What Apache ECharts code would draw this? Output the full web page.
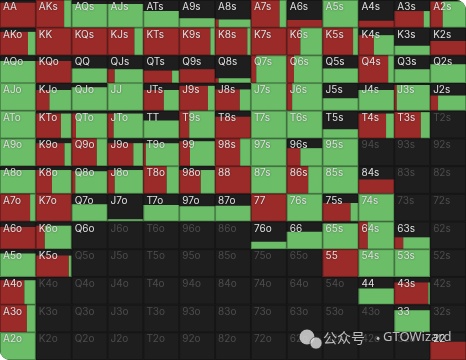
<!DOCTYPE html>
<html>
<head>
<meta charset="utf-8">
<script src="https://cdn.jsdelivr.net/npm/echarts@6/dist/echarts.min.js"></script>
<style>
  html, body { margin: 0; padding: 0; background: #ffffff; }
  #chart { width: 466px; height: 360px; border-radius: 0 10px 0 10px; overflow: hidden; background: #1c1c1c; }
</style>
</head>
<body>
<div id="chart"></div>
<script>
// Ranks of the 13x13 hand grid (rows / columns)
const ranks = ['A','K','Q','J','T','9','8','7','6','5','4','3','2'];

// Share of each cell that is played (filled from the bottom); rest is fold (dark)
const played = [
  [0.90, 1.00, 0.86, 0.86, 0.60, 0.34, 0.30, 1.00, 0.28, 1.00, 0.25, 0.60, 0.95],
  [0.85, 1.00, 1.00, 1.00, 1.00, 1.00, 1.00, 1.00, 1.00, 1.00, 0.73, 0.35, 0.52],
  [0.80, 0.80, 0.53, 0.50, 0.45, 0.50, 0.17, 1.00, 1.00, 0.53, 1.00, 0.50, 0.68],
  [1.00, 0.75, 0.85, 1.00, 0.75, 0.90, 0.77, 1.00, 1.00, 0.45, 0.75, 0.93, 0.55],
  [1.00, 0.90, 0.90, 0.90, 0.65, 1.00, 0.78, 1.00, 1.00, 0.33, 0.90, 0.95, 0.00],
  [1.00, 0.83, 1.00, 0.83, 0.83, 0.90, 1.00, 1.00, 0.65, 1.00, 0.00, 0.00, 0.00],
  [0.86, 0.86, 0.82, 0.86, 1.00, 0.86, 1.00, 1.00, 1.00, 1.00, 0.52, 0.00, 0.00],
  [1.00, 1.00, 0.62, 0.08, 0.60, 0.55, 0.57, 1.00, 1.00, 0.67, 1.00, 0.00, 0.00],
  [0.80, 0.85, 0.00, 0.00, 0.00, 0.00, 0.00, 0.27, 0.63, 0.93, 1.00, 0.43, 0.00],
  [0.85, 0.77, 0.00, 0.00, 0.00, 0.00, 0.00, 0.00, 0.00, 1.00, 1.00, 1.00, 0.00],
  [0.88, 0.00, 0.00, 0.00, 0.00, 0.00, 0.00, 0.00, 0.00, 0.00, 0.58, 0.80, 0.00],
  [1.00, 0.00, 0.00, 0.00, 0.00, 0.00, 0.00, 0.00, 0.00, 0.00, 0.00, 0.80, 0.00],
  [1.00, 0.00, 0.00, 0.00, 0.00, 0.00, 0.00, 0.00, 0.00, 0.00, 0.00, 0.00, 0.66]
];

// Within the played part: share that is raise (red, left); remainder is call (green, right)
const raiseShare = [
  [1.00, 0.79, 0.00, 0.00, 0.00, 0.00, 0.10, 0.80, 1.00, 0.00, 1.00, 0.82, 0.35],
  [0.78, 1.00, 1.00, 0.75, 1.00, 0.87, 0.90, 1.00, 0.38, 0.85, 0.43, 0.00, 1.00],
  [0.00, 1.00, 0.00, 0.20, 0.80, 1.00, 0.10, 0.15, 0.20, 0.00, 0.83, 0.00, 0.00],
  [0.00, 0.38, 0.00, 0.00, 0.57, 0.80, 0.69, 0.00, 0.15, 0.00, 0.00, 0.07, 0.22],
  [0.00, 0.70, 0.12, 0.17, 0.00, 0.28, 1.00, 0.00, 0.00, 0.00, 0.77, 0.74, 0.00],
  [0.00, 0.80, 0.70, 0.72, 0.07, 0.30, 0.70, 0.00, 0.38, 0.00, 0.00, 0.00, 0.00],
  [0.00, 0.45, 0.10, 0.20, 0.65, 0.60, 1.00, 0.00, 0.60, 0.00, 1.00, 0.00, 0.00],
  [0.84, 1.00, 0.00, 0.00, 0.00, 0.00, 0.00, 1.00, 0.00, 0.78, 0.00, 0.00, 0.00],
  [1.00, 0.25, 0.00, 0.00, 0.00, 0.00, 0.00, 0.00, 0.00, 0.00, 0.26, 0.25, 0.00],
  [0.00, 0.92, 0.00, 0.00, 0.00, 0.00, 0.00, 0.00, 0.00, 1.00, 0.00, 0.00, 0.00],
  [0.68, 0.00, 0.00, 0.00, 0.00, 0.00, 0.00, 0.00, 0.00, 0.00, 0.00, 0.95, 0.00],
  [0.75, 0.00, 0.00, 0.00, 0.00, 0.00, 0.00, 0.00, 0.00, 0.00, 0.00, 0.00, 0.00],
  [0.00, 0.00, 0.00, 0.00, 0.00, 0.00, 0.00, 0.00, 0.00, 0.00, 0.00, 0.00, 1.00]
];

// Hands in the range that are always folded (label stays bright)
const foldOnly = ['Q6o'];

function handName(i, j) {
  if (i === j) return ranks[i] + ranks[j];
  if (j > i) return ranks[i] + ranks[j] + 's';
  return ranks[j] + ranks[i] + 'o';
}

const cells = [];
for (let i = 0; i < 13; i++) {
  for (let j = 0; j < 13; j++) {
    const name = handName(i, j);
    const inRange = played[i][j] > 0 || foldOnly.indexOf(name) >= 0;
    cells.push([j, i, played[i][j], raiseShare[i][j], name, inRange ? 1 : 0]);
  }
}

const RED = '#9a2b29';
const GREEN = '#6bbd68';
const CELL_BG = '#1e1e1e';
const WM = 'rgba(215,215,215,0.85)';

const chart = echarts.init(document.getElementById('chart'), null, { renderer: 'canvas' });
chart.setOption({
  backgroundColor: '#1c1c1c',
  animation: false,
  grid: { left: 0, right: 0, top: 0, bottom: 0 },
  xAxis: { type: 'value', min: 0, max: 13, show: false },
  yAxis: { type: 'value', min: 0, max: 13, inverse: true, show: false },
  series: [{
    type: 'custom',
    z: 2,
    data: cells,
    renderItem: function (params, api) {
      const j = api.value(0), i = api.value(1);
      const h = api.value(2), r = api.value(3);
      const name = api.value(4);
      const bright = api.value(5) === 1;
      const p0 = api.coord([j, i]);
      const p1 = api.coord([j + 1, i + 1]);
      const x = p0[0], y = p0[1], w = p1[0] - p0[0], ch = p1[1] - p0[1];
      const children = [
        { type: 'rect', shape: { x: x, y: y, width: w, height: ch }, style: { fill: CELL_BG } }
      ];
      if (h > 0) {
        const fh = ch * h;
        const fy = y + ch - fh;
        const rw = w * r;
        if (rw > 0) children.push({ type: 'rect', shape: { x: x, y: fy, width: rw, height: fh }, style: { fill: RED } });
        if (w - rw > 0) children.push({ type: 'rect', shape: { x: x + rw, y: fy, width: w - rw, height: fh }, style: { fill: GREEN } });
      }
      children.push({ type: 'rect', shape: { x: x + 0.5, y: y + 0.5, width: w - 1, height: ch - 1 },
        style: { fill: 'none', stroke: 'rgba(0,0,0,0.28)', lineWidth: 1 } });
      children.push({
        type: 'text',
        style: {
          x: x + 3, y: y + 2, text: name,
          fill: bright ? '#e0e0e0' : '#4c4c4c',
          font: '10px "Inter", "Noto Sans", sans-serif',
          textAlign: 'left', textVerticalAlign: 'top',
          textShadowColor: bright ? 'rgba(0,0,0,0.45)' : 'transparent',
          textShadowBlur: 2
        }
      });
      return { type: 'group', children: children };
    }
  }],
  graphic: {
    elements: [
      { type: 'circle', z: 100, shape: { cx: 307, cy: 337, r: 7.5 }, style: { fill: WM } },
      { type: 'circle', z: 101, shape: { cx: 316, cy: 343, r: 6 }, style: { fill: WM, stroke: 'rgba(40,40,40,0.6)', lineWidth: 1 } },
      { type: 'text', z: 102, left: 323, top: 331,
        style: { text: '公众号', fill: WM, font: '14px "Noto Sans CJK SC", sans-serif' } },
      { type: 'text', z: 102, left: 371, top: 331,
        style: { text: '·', fill: WM, font: '14px "Noto Sans CJK SC", sans-serif' } },
      { type: 'text', z: 102, left: 383, top: 331,
        style: { text: 'GTOWizard', fill: WM, font: '13px "Noto Sans", sans-serif' } }
    ]
  }
});
</script>
</body>
</html>
